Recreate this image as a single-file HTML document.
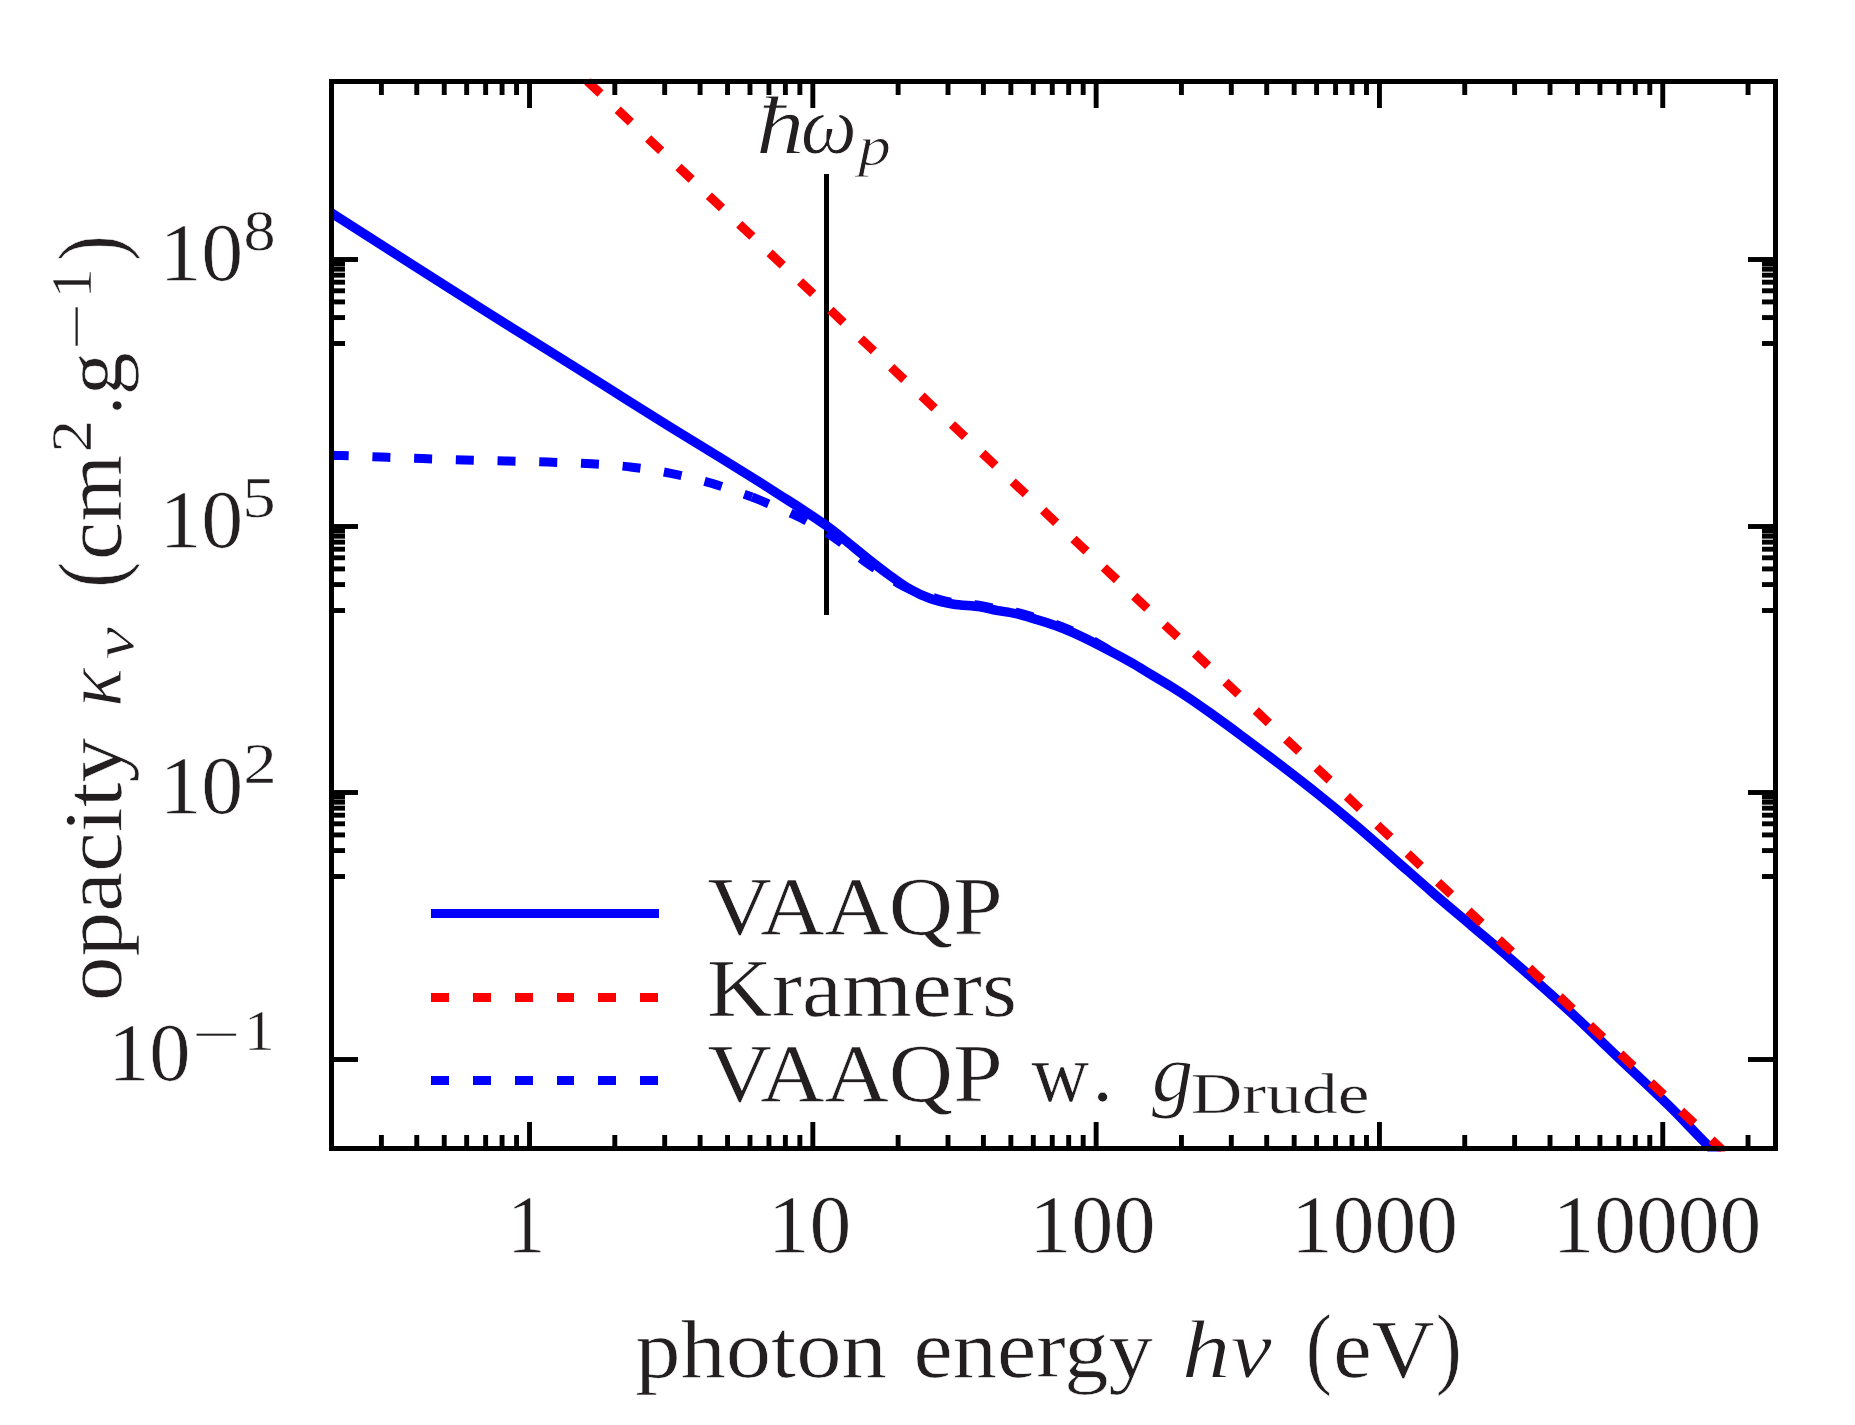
<!DOCTYPE html><html><head><meta charset="utf-8"><title>opacity plot</title><style>html,body{margin:0;padding:0;background:#fff}</style></head><body><svg width="1855" height="1425" viewBox="0 0 1855 1425" style="display:block">
<rect width="1855" height="1425" fill="#fff"/>
<defs><clipPath id="ax"><rect x="329" y="78.5" width="1449" height="1073"/></clipPath></defs>
<g clip-path="url(#ax)" fill="none" stroke-linejoin="round">
<rect x="824" y="174" width="5" height="441" fill="#000"/>
<path d="M318.50,204.80 C322.83,207.53 327.18,210.25 331.50,213.00 C381.01,244.58 430.38,276.39 480.00,307.80 C513.21,328.82 546.69,349.43 580.00,370.30 C593.35,378.67 606.66,387.11 620.00,395.50 C636.33,405.77 652.60,416.13 669.00,426.30 C685.94,436.80 703.03,447.05 720.00,457.50 C731.03,464.29 742.04,471.11 753.00,478.00 C762.04,483.68 771.00,489.46 780.00,495.20 C787.20,499.79 794.46,504.31 801.60,509.00 C809.93,514.47 818.30,519.89 826.40,525.70 C832.67,530.20 838.66,535.09 844.70,539.90 C851.96,545.69 859.02,551.74 866.30,557.50 C873.38,563.11 880.50,568.68 887.80,574.00 C894.87,579.15 901.82,584.54 909.40,588.90 C916.24,592.83 923.45,596.19 930.90,598.80 C937.89,601.25 945.19,602.79 952.50,604.00 C961.59,605.50 970.88,605.59 980.00,606.90 C985.53,607.69 990.91,609.26 996.40,610.30 C1002.88,611.53 1009.47,612.23 1015.90,613.70 C1022.45,615.20 1028.86,617.26 1035.30,619.20 C1041.80,621.16 1048.31,623.10 1054.70,625.40 C1061.26,627.77 1067.72,630.39 1074.10,633.20 C1080.66,636.09 1087.09,639.29 1093.50,642.50 C1100.02,645.76 1106.47,649.17 1112.90,652.60 C1119.40,656.07 1125.91,659.53 1132.30,663.20 C1138.85,666.96 1145.23,671.01 1151.70,674.90 C1158.16,678.78 1164.71,682.51 1171.10,686.50 C1177.64,690.58 1184.11,694.78 1190.50,699.10 C1197.04,703.52 1203.48,708.10 1209.90,712.70 C1219.58,719.63 1229.23,726.62 1238.80,733.70 C1251.80,743.32 1264.75,752.99 1277.60,762.80 C1290.61,772.73 1303.61,782.68 1316.40,792.90 C1329.52,803.38 1342.50,814.04 1355.30,824.90 C1368.40,836.01 1381.17,847.49 1394.10,858.80 C1407.04,870.12 1419.88,881.56 1432.90,892.80 C1445.75,903.90 1458.77,914.80 1471.70,925.80 C1484.63,936.80 1497.70,947.65 1510.50,958.80 C1529.60,975.45 1548.72,992.08 1567.40,1009.20 C1584.52,1024.89 1601.07,1041.20 1617.90,1057.20 C1634.73,1073.20 1651.82,1088.94 1668.40,1105.20 C1681.29,1117.84 1693.56,1131.11 1706.30,1143.90 C1710.76,1148.38 1715.43,1152.63 1720.00,1157.00" stroke="#0000ff" stroke-width="9.5"/>
<path d="M560,55.48 L1740,1166.51" stroke="#ff0000" stroke-width="9" stroke-dasharray="18 23.73" stroke-dashoffset="4.17"/>
<path d="M330.70,455.30 C334.33,455.40 337.97,455.47 341.60,455.60 C354.73,456.07 367.87,456.61 381.00,457.10 C394.80,457.61 408.60,458.13 422.40,458.60 C436.27,459.07 450.13,459.50 464.00,459.90 C477.73,460.30 491.47,460.64 505.20,461.00 C519.43,461.37 533.67,461.64 547.90,462.10 C562.50,462.57 577.12,462.92 591.70,463.80 C605.22,464.62 618.75,465.56 632.20,467.20 C645.54,468.83 658.83,470.93 672.00,473.60 C685.45,476.33 698.82,479.55 712.00,483.40 C725.52,487.35 738.67,492.47 752.00,497.00" stroke="#0000ff" stroke-width="9" stroke-dasharray="18 23.73"/>
<path d="M752.00,497.00 C753.20,497.47 754.42,497.89 755.60,498.40 C769.88,504.49 784.50,509.87 798.40,516.80 C810.68,522.93 822.61,529.84 834.00,537.50 C845.29,545.10 855.21,554.60 866.30,562.50 C876.76,569.95 887.49,577.05 898.60,583.50 C904.77,587.08 911.35,589.93 918.00,592.50 C925.18,595.27 932.58,597.46 940.00,599.50 C945.59,601.03 951.26,602.35 957.00,603.20 C964.62,604.32 972.37,604.32 980.00,605.40 C985.53,606.19 990.91,607.76 996.40,608.80 C1002.88,610.03 1009.47,610.73 1015.90,612.20 C1022.45,613.70 1028.86,615.76 1035.30,617.70 C1041.80,619.66 1048.31,621.60 1054.70,623.90 C1061.26,626.27 1067.72,628.89 1074.10,631.70 C1080.66,634.59 1087.19,637.60 1093.50,641.00 C1100.13,644.57 1106.43,648.73 1112.90,652.60" stroke="#0000ff" stroke-width="9" stroke-dasharray="18 23.73"/>
</g>
<g fill="#000">
<rect x="378.94" y="81" width="4.9" height="14.0"/>
<rect x="378.94" y="1135.0" width="4.9" height="14.0"/>
<rect x="414.33" y="81" width="4.9" height="14.0"/>
<rect x="414.33" y="1135.0" width="4.9" height="14.0"/>
<rect x="441.79" y="81" width="4.9" height="14.0"/>
<rect x="441.79" y="1135.0" width="4.9" height="14.0"/>
<rect x="464.22" y="81" width="4.9" height="14.0"/>
<rect x="464.22" y="1135.0" width="4.9" height="14.0"/>
<rect x="483.19" y="81" width="4.9" height="14.0"/>
<rect x="483.19" y="1135.0" width="4.9" height="14.0"/>
<rect x="499.62" y="81" width="4.9" height="14.0"/>
<rect x="499.62" y="1135.0" width="4.9" height="14.0"/>
<rect x="514.11" y="81" width="4.9" height="14.0"/>
<rect x="514.11" y="1135.0" width="4.9" height="14.0"/>
<rect x="527.07" y="81" width="4.9" height="27.0"/>
<rect x="527.07" y="1122.0" width="4.9" height="27.0"/>
<rect x="612.36" y="81" width="4.9" height="14.0"/>
<rect x="612.36" y="1135.0" width="4.9" height="14.0"/>
<rect x="662.25" y="81" width="4.9" height="14.0"/>
<rect x="662.25" y="1135.0" width="4.9" height="14.0"/>
<rect x="697.64" y="81" width="4.9" height="14.0"/>
<rect x="697.64" y="1135.0" width="4.9" height="14.0"/>
<rect x="725.10" y="81" width="4.9" height="14.0"/>
<rect x="725.10" y="1135.0" width="4.9" height="14.0"/>
<rect x="747.53" y="81" width="4.9" height="14.0"/>
<rect x="747.53" y="1135.0" width="4.9" height="14.0"/>
<rect x="766.50" y="81" width="4.9" height="14.0"/>
<rect x="766.50" y="1135.0" width="4.9" height="14.0"/>
<rect x="782.93" y="81" width="4.9" height="14.0"/>
<rect x="782.93" y="1135.0" width="4.9" height="14.0"/>
<rect x="797.42" y="81" width="4.9" height="14.0"/>
<rect x="797.42" y="1135.0" width="4.9" height="14.0"/>
<rect x="810.38" y="81" width="4.9" height="27.0"/>
<rect x="810.38" y="1122.0" width="4.9" height="27.0"/>
<rect x="895.67" y="81" width="4.9" height="14.0"/>
<rect x="895.67" y="1135.0" width="4.9" height="14.0"/>
<rect x="945.56" y="81" width="4.9" height="14.0"/>
<rect x="945.56" y="1135.0" width="4.9" height="14.0"/>
<rect x="980.95" y="81" width="4.9" height="14.0"/>
<rect x="980.95" y="1135.0" width="4.9" height="14.0"/>
<rect x="1008.41" y="81" width="4.9" height="14.0"/>
<rect x="1008.41" y="1135.0" width="4.9" height="14.0"/>
<rect x="1030.84" y="81" width="4.9" height="14.0"/>
<rect x="1030.84" y="1135.0" width="4.9" height="14.0"/>
<rect x="1049.81" y="81" width="4.9" height="14.0"/>
<rect x="1049.81" y="1135.0" width="4.9" height="14.0"/>
<rect x="1066.24" y="81" width="4.9" height="14.0"/>
<rect x="1066.24" y="1135.0" width="4.9" height="14.0"/>
<rect x="1080.73" y="81" width="4.9" height="14.0"/>
<rect x="1080.73" y="1135.0" width="4.9" height="14.0"/>
<rect x="1093.69" y="81" width="4.9" height="27.0"/>
<rect x="1093.69" y="1122.0" width="4.9" height="27.0"/>
<rect x="1178.98" y="81" width="4.9" height="14.0"/>
<rect x="1178.98" y="1135.0" width="4.9" height="14.0"/>
<rect x="1228.86" y="81" width="4.9" height="14.0"/>
<rect x="1228.86" y="1135.0" width="4.9" height="14.0"/>
<rect x="1264.26" y="81" width="4.9" height="14.0"/>
<rect x="1264.26" y="1135.0" width="4.9" height="14.0"/>
<rect x="1291.72" y="81" width="4.9" height="14.0"/>
<rect x="1291.72" y="1135.0" width="4.9" height="14.0"/>
<rect x="1314.15" y="81" width="4.9" height="14.0"/>
<rect x="1314.15" y="1135.0" width="4.9" height="14.0"/>
<rect x="1333.12" y="81" width="4.9" height="14.0"/>
<rect x="1333.12" y="1135.0" width="4.9" height="14.0"/>
<rect x="1349.55" y="81" width="4.9" height="14.0"/>
<rect x="1349.55" y="1135.0" width="4.9" height="14.0"/>
<rect x="1364.04" y="81" width="4.9" height="14.0"/>
<rect x="1364.04" y="1135.0" width="4.9" height="14.0"/>
<rect x="1377.00" y="81" width="4.9" height="27.0"/>
<rect x="1377.00" y="1122.0" width="4.9" height="27.0"/>
<rect x="1462.29" y="81" width="4.9" height="14.0"/>
<rect x="1462.29" y="1135.0" width="4.9" height="14.0"/>
<rect x="1512.17" y="81" width="4.9" height="14.0"/>
<rect x="1512.17" y="1135.0" width="4.9" height="14.0"/>
<rect x="1547.57" y="81" width="4.9" height="14.0"/>
<rect x="1547.57" y="1135.0" width="4.9" height="14.0"/>
<rect x="1575.03" y="81" width="4.9" height="14.0"/>
<rect x="1575.03" y="1135.0" width="4.9" height="14.0"/>
<rect x="1597.46" y="81" width="4.9" height="14.0"/>
<rect x="1597.46" y="1135.0" width="4.9" height="14.0"/>
<rect x="1616.42" y="81" width="4.9" height="14.0"/>
<rect x="1616.42" y="1135.0" width="4.9" height="14.0"/>
<rect x="1632.85" y="81" width="4.9" height="14.0"/>
<rect x="1632.85" y="1135.0" width="4.9" height="14.0"/>
<rect x="1647.35" y="81" width="4.9" height="14.0"/>
<rect x="1647.35" y="1135.0" width="4.9" height="14.0"/>
<rect x="1660.31" y="81" width="4.9" height="27.0"/>
<rect x="1660.31" y="1122.0" width="4.9" height="27.0"/>
<rect x="1745.59" y="81" width="4.9" height="14.0"/>
<rect x="1745.59" y="1135.0" width="4.9" height="14.0"/>
<rect x="331" y="257.05" width="27.0" height="4.9"/>
<rect x="1748.0" y="257.05" width="28.0" height="4.9"/>
<rect x="331" y="341.05" width="14.0" height="4.9"/>
<rect x="1762.0" y="341.05" width="14.0" height="4.9"/>
<rect x="331" y="315.13" width="14.0" height="4.9"/>
<rect x="1762.0" y="315.13" width="14.0" height="4.9"/>
<rect x="331" y="299.47" width="14.0" height="4.9"/>
<rect x="1762.0" y="299.47" width="14.0" height="4.9"/>
<rect x="331" y="288.36" width="14.0" height="4.9"/>
<rect x="1762.0" y="288.36" width="14.0" height="4.9"/>
<rect x="331" y="279.75" width="14.0" height="4.9"/>
<rect x="1762.0" y="279.75" width="14.0" height="4.9"/>
<rect x="331" y="272.71" width="14.0" height="4.9"/>
<rect x="1762.0" y="272.71" width="14.0" height="4.9"/>
<rect x="331" y="266.75" width="14.0" height="4.9"/>
<rect x="1762.0" y="266.75" width="14.0" height="4.9"/>
<rect x="331" y="261.60" width="14.0" height="4.9"/>
<rect x="1762.0" y="261.60" width="14.0" height="4.9"/>
<rect x="331" y="524.05" width="27.0" height="4.9"/>
<rect x="1748.0" y="524.05" width="28.0" height="4.9"/>
<rect x="331" y="608.05" width="14.0" height="4.9"/>
<rect x="1762.0" y="608.05" width="14.0" height="4.9"/>
<rect x="331" y="582.13" width="14.0" height="4.9"/>
<rect x="1762.0" y="582.13" width="14.0" height="4.9"/>
<rect x="331" y="566.47" width="14.0" height="4.9"/>
<rect x="1762.0" y="566.47" width="14.0" height="4.9"/>
<rect x="331" y="555.36" width="14.0" height="4.9"/>
<rect x="1762.0" y="555.36" width="14.0" height="4.9"/>
<rect x="331" y="546.75" width="14.0" height="4.9"/>
<rect x="1762.0" y="546.75" width="14.0" height="4.9"/>
<rect x="331" y="539.71" width="14.0" height="4.9"/>
<rect x="1762.0" y="539.71" width="14.0" height="4.9"/>
<rect x="331" y="533.75" width="14.0" height="4.9"/>
<rect x="1762.0" y="533.75" width="14.0" height="4.9"/>
<rect x="331" y="528.60" width="14.0" height="4.9"/>
<rect x="1762.0" y="528.60" width="14.0" height="4.9"/>
<rect x="331" y="790.05" width="27.0" height="4.9"/>
<rect x="1748.0" y="790.05" width="28.0" height="4.9"/>
<rect x="331" y="874.05" width="14.0" height="4.9"/>
<rect x="1762.0" y="874.05" width="14.0" height="4.9"/>
<rect x="331" y="848.13" width="14.0" height="4.9"/>
<rect x="1762.0" y="848.13" width="14.0" height="4.9"/>
<rect x="331" y="832.47" width="14.0" height="4.9"/>
<rect x="1762.0" y="832.47" width="14.0" height="4.9"/>
<rect x="331" y="821.36" width="14.0" height="4.9"/>
<rect x="1762.0" y="821.36" width="14.0" height="4.9"/>
<rect x="331" y="812.75" width="14.0" height="4.9"/>
<rect x="1762.0" y="812.75" width="14.0" height="4.9"/>
<rect x="331" y="805.71" width="14.0" height="4.9"/>
<rect x="1762.0" y="805.71" width="14.0" height="4.9"/>
<rect x="331" y="799.75" width="14.0" height="4.9"/>
<rect x="1762.0" y="799.75" width="14.0" height="4.9"/>
<rect x="331" y="794.60" width="14.0" height="4.9"/>
<rect x="1762.0" y="794.60" width="14.0" height="4.9"/>
<rect x="331" y="1057.05" width="27.0" height="4.9"/>
<rect x="1748.0" y="1057.05" width="28.0" height="4.9"/>
</g>
<rect x="331.5" y="81.5" width="1444" height="1067" fill="none" stroke="#000" stroke-width="5"/>
<g font-family="Liberation Serif, serif" fill="#231f20" stroke="#fff" stroke-linejoin="round">
<text transform="translate(507.30,1252.00) scale(0.9184,1.0)" font-size="83" stroke-width="0.60">1</text>
<text transform="translate(767.64,1252.00) scale(1.0083,1.0)" font-size="83" stroke-width="0.60">10</text>
<text transform="translate(1029.19,1252.00) scale(1.0150,1.0)" font-size="83" stroke-width="0.60">100</text>
<text transform="translate(1290.95,1252.00) scale(1.0064,1.0)" font-size="83" stroke-width="0.60">1000</text>
<text transform="translate(1552.45,1252.00) scale(1.0071,1.0)" font-size="83" stroke-width="0.60">10000</text>
<text transform="translate(159.42,279.80) scale(1.0110,1.0)" font-size="83" stroke-width="0.60">10</text>
<text transform="translate(243.45,250.10) scale(1.1066,1.0)" font-size="58" stroke-width="0.48">8</text>
<text transform="translate(159.42,546.80) scale(1.0110,1.0)" font-size="83" stroke-width="0.60">10</text>
<text transform="translate(242.19,517.10) scale(1.1538,1.0)" font-size="58" stroke-width="0.48">5</text>
<text transform="translate(159.42,812.80) scale(1.0110,1.0)" font-size="83" stroke-width="0.60">10</text>
<text transform="translate(243.35,783.10) scale(1.1538,1.0)" font-size="58" stroke-width="0.48">2</text>
<text transform="translate(108.04,1079.60) scale(0.9945,1.0)" font-size="83" stroke-width="0.60">10</text>
<text transform="translate(191.77,1054.40) scale(1.4924,1.0)" font-size="58" stroke-width="0.48">−</text>
<text transform="translate(243.84,1049.90) scale(1.0686,1.0)" font-size="58" stroke-width="0.48">1</text>
<text transform="translate(635.18,1377.00) scale(1.0919,1.0)" font-size="83" stroke-width="0.60">photon</text>
<text transform="translate(913.48,1377.00) scale(1.0662,1.0)" font-size="83" stroke-width="0.60">energy</text>
<text transform="translate(1181.82,1377.30) scale(1.1744,1.0)" font-size="83" font-style="italic" stroke-width="1.00">h</text>
<text transform="translate(1230.54,1377.30) scale(1.1215,1.0)" font-size="83" font-style="italic" stroke-width="1.00">ν</text>
<text transform="translate(1305.63,1377.30) scale(0.9461,1.107)" font-size="83" stroke-width="0.60">(</text>
<text transform="translate(1333.25,1377.30) scale(1.0444,1.0)" font-size="83" stroke-width="0.60">eV</text>
<text transform="translate(1435.69,1377.30) scale(0.9412,1.107)" font-size="83" stroke-width="0.60">)</text>
<text transform="translate(755.94,153.30) scale(1.1686,1.0)" font-size="83" font-style="italic" stroke-width="1.00">ħ</text>
<text transform="translate(800.64,153.30) scale(0.9572,1.0)" font-size="83" font-style="italic" stroke-width="1.00">ω</text>
<text transform="translate(858.14,164.80) scale(1.1259,1.0)" font-size="58" font-style="italic" stroke-width="0.80">p</text>
<text transform="translate(707.40,933.70) scale(1.0732,1.0)" font-size="83" stroke-width="0.60">VAAQP</text>
<text transform="translate(706.90,1016.20) scale(1.0852,1.0)" font-size="83" stroke-width="0.60">Kramers</text>
<text transform="translate(707.40,1101.00) scale(1.0732,1.0)" font-size="83" stroke-width="0.60">VAAQP</text>
<text transform="translate(1031.51,1101.00) scale(0.9613,1.0)" font-size="83" stroke-width="0.60">w</text>
<text transform="translate(1092.30,1101.00) scale(1.0000,1.0)" font-size="83" stroke-width="0.60">.</text>
<text transform="translate(1151.80,1101.00) scale(1.0026,1.0)" font-size="83" font-style="italic" stroke-width="1.00">g</text>
<text transform="translate(1190.66,1113.00) scale(1.2336,1.0)" font-size="58" stroke-width="0.48">Drude</text>
<g transform="translate(121.4,998) rotate(-90)">
<text transform="translate(-3.36,0.00) scale(1.0795,1.0)" font-size="83" stroke-width="0.60">opacity</text>
<text transform="translate(291.07,0.00) scale(0.9786,1.0)" font-size="83" font-style="italic" stroke-width="1.00">κ</text>
<text transform="translate(338.45,12.00) scale(1.2664,1.0)" font-size="58" font-style="italic" stroke-width="0.80">ν</text>
<text transform="translate(410.33,0.00) scale(0.9461,1.107)" font-size="83" stroke-width="0.60">(</text>
<text transform="translate(437.97,0.00) scale(1.0384,1.0)" font-size="83" stroke-width="0.60">cm</text>
<text transform="translate(545.61,-30.20) scale(1.1239,1.0)" font-size="58" stroke-width="0.48">2</text>
<text transform="translate(582.64,0.00) scale(0.9362,1.0)" font-size="83" stroke-width="0.60">.</text>
<text transform="translate(602.68,0.00) scale(1.0357,1.0)" font-size="83" stroke-width="0.60">g</text>
<text transform="translate(647.83,-25.40) scale(1.4470,1.0)" font-size="58" stroke-width="0.48">−</text>
<text transform="translate(699.74,-30.20) scale(1.0294,1.0)" font-size="58" stroke-width="0.48">1</text>
<text transform="translate(737.27,0.00) scale(0.9167,1.107)" font-size="83" stroke-width="0.60">)</text>
</g>
</g>
<g shape-rendering="crispEdges">
<rect x="431" y="909" width="228" height="9" fill="#0000ff"/>
<rect x="431" y="993" width="18" height="9" fill="#ff0000"/>
<rect x="431" y="1076" width="18" height="9" fill="#0000ff"/>
<rect x="473" y="993" width="18" height="9" fill="#ff0000"/>
<rect x="473" y="1076" width="18" height="9" fill="#0000ff"/>
<rect x="515" y="993" width="18" height="9" fill="#ff0000"/>
<rect x="515" y="1076" width="18" height="9" fill="#0000ff"/>
<rect x="557" y="993" width="17" height="9" fill="#ff0000"/>
<rect x="557" y="1076" width="17" height="9" fill="#0000ff"/>
<rect x="598" y="993" width="18" height="9" fill="#ff0000"/>
<rect x="598" y="1076" width="18" height="9" fill="#0000ff"/>
<rect x="640" y="993" width="18" height="9" fill="#ff0000"/>
<rect x="640" y="1076" width="18" height="9" fill="#0000ff"/>
</g>
</svg></body></html>
